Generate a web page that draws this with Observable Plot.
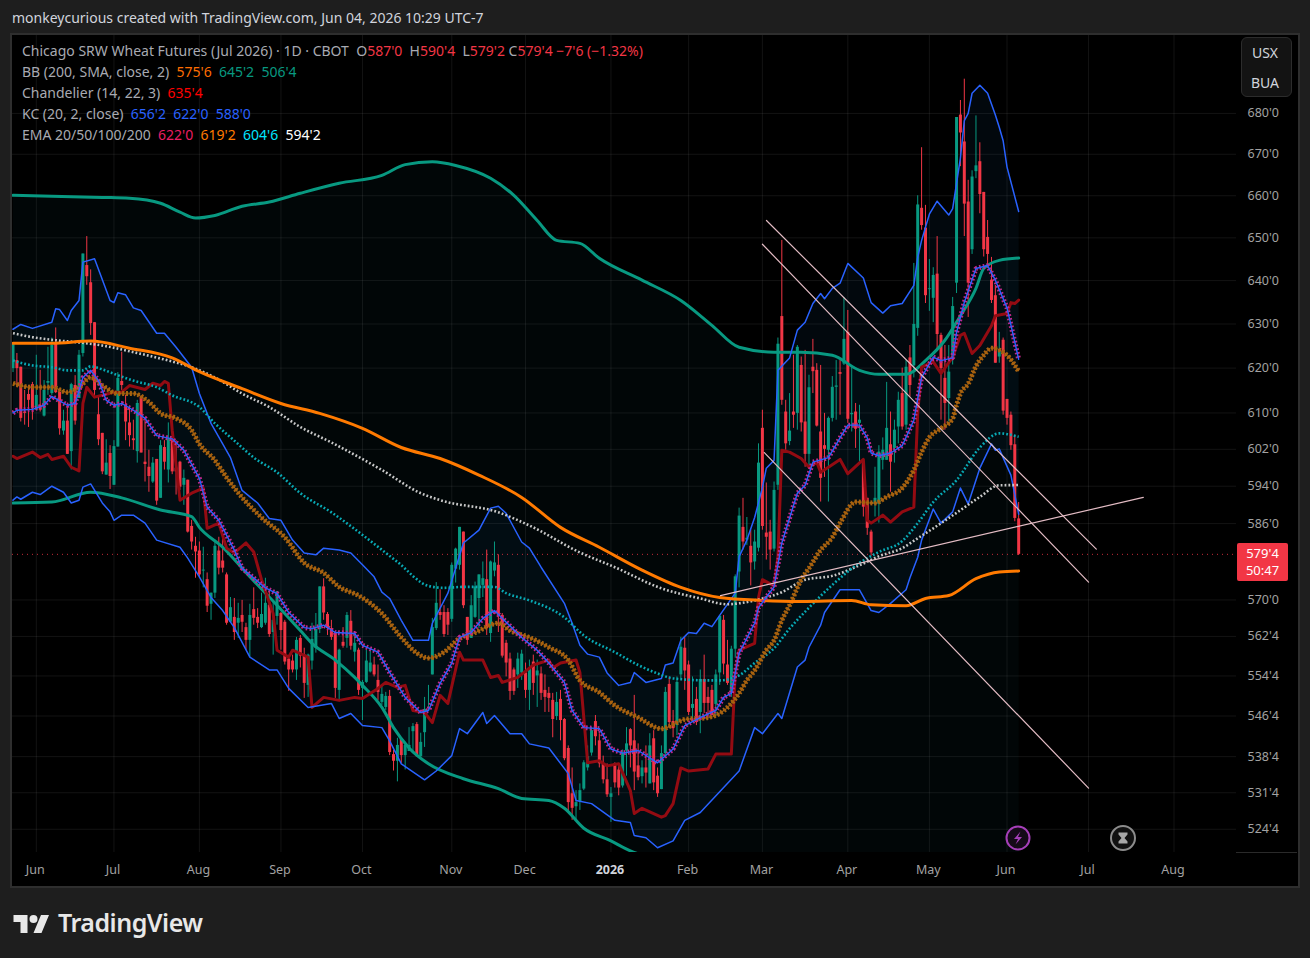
<!DOCTYPE html>
<html><head><meta charset="utf-8">
<script src="https://cdn.jsdelivr.net/npm/d3@7"></script>
<script src="https://cdn.jsdelivr.net/npm/@observablehq/plot@0.6"></script>
<style>
html,body{margin:0;padding:0;background:#1e1e1e;width:1310px;height:958px;overflow:hidden;font-family:"Noto Sans",sans-serif}
#panel{position:absolute;left:10px;top:33px;width:1286px;height:851px;border:2px solid #2e2e2e;background:#000}
#chart{position:absolute;left:12px;top:35px;line-height:0}
#head{position:absolute;left:12px;top:9px;font-size:14px;color:#d1d4dc;line-height:18px}
.lg{position:absolute;left:22px;font-size:14px;color:#a8aab2;white-space:pre;line-height:16px}
#sw{position:absolute;left:1241px;top:37px;width:51px;height:60px;background:#131313;border:1.5px solid #2c2c2c;border-radius:6px;color:#d1d4dc;font-size:14px;text-align:center;line-height:30px;box-sizing:border-box;padding-right:3px}
#tag{position:absolute;left:1237px;top:543px;width:51px;height:38px;background:#f23645;border-radius:2px;color:#fff;font-size:13px;text-align:center;line-height:17px;padding-top:2px;box-sizing:border-box}
#axl{position:absolute;left:1236px;top:852px;width:61px;height:1px;background:#2a2a2a}
#brand{position:absolute;left:58px;top:904px;font-size:25px;font-weight:600;color:#e8e8e8;letter-spacing:-.5px;line-height:36px}
svg.ov{position:absolute;overflow:visible}
</style></head><body>
<div id="panel"></div>
<div id="chart"></div>
<div id="head">monkeycurious created with TradingView.com, Jun 04, 2026 10:29 UTC-7</div>
<div id="legend"></div>
<div id="sw">USX<br>BUA</div>
<div id="tag"></div>
<div id="axl"></div>
<svg class="ov" style="left:1004px;top:824px" width="134" height="28" viewBox="0 0 134 28">
<circle cx="14" cy="14" r="11.5" fill="#150a18" stroke="#a53fb8" stroke-width="2"/>
<path d="M16.5 7.5 L10 15 H14 L11.5 20.5 L18 13 H14 Z" fill="#a53fb8"/>
<circle cx="119" cy="14" r="12" fill="#111" stroke="#8c8c8c" stroke-width="2"/>
<path d="M114.5 8.5 H123.5 V10.5 L120.5 14 L123.5 17.5 V19.5 H114.5 V17.5 L117.5 14 L114.5 10.5 Z" fill="#a8a8a8"/>
</svg>
<svg class="ov" style="left:13px;top:911px" width="37" height="22" viewBox="0 0 36 22">
<path d="M14 22H7V11H0V4h14v18zM28 22h-8l7.5-18h8L28 22z" fill="#e8e8e8"/><circle cx="20" cy="8" r="4" fill="#e8e8e8"/>
</svg>
<div id="brand">TradingView</div>
<script>
// [open, high, low, close] per daily bar, grouped by month
const may25=[[619.9,625.6,619,625.6],[621.7,623.3,615.6,619.9],[620.2,620.2,608,608.8],[610.2,615,607.3,609.9],[614.1,616.1,606.8,612.8],[616.3,616.8,608.4,611]];
const jun25=[[610.6,622.9,610.6,613.9],[611.7,619.5,610.2,610.6],[609.3,617.2,609.1,615],[616.6,624.7,613.9,617],[614.3,626.8,613.9,625.1],[625.4,629.1,614.3,614.5],[614.6,614.6,605.1,606.5],[606,610.6,605.1,608.2],[608.2,612.1,600.9,600.9],[601.5,616.6,597.5,616.3],[616.1,618.3,607.3,608.2],[613.2,624,613.2,622.9],[623.3,646.2,622.5,646.2],[643.5,650.3,638.9,640.9],[639.5,642.5,627.4,630.1],[630.3,630.3,613.2,615],[609.6,613.5,602.8,604.1],[605.5,605.5,596.5,597.1],[596.4,604.1,596.4,599],[601.1,602.8,593.3,596.1]];
const jul25=[[594.2,603.9,594.2,602.6],[602.5,619,602.5,617.7],[617,623.6,615,616.1],[611.7,613.9,603.9,608],[607.8,611.3,602.5,605],[604.3,608.4,601.8,603.9],[601.5,612.8,599,612.1],[613.5,613.6,601.2,601.2],[599.2,608.8,594.9,598.7],[598.1,601.8,592.7,596.1],[594.9,600.2,594.6,599],[599.8,599.8,589.9,590.8],[591.4,603.9,591.4,602.8],[602.4,603.9,597.5,599.2],[597.5,607.8,594.7,604.3],[604.1,604.3,596.5,597.1],[597.9,603.9,592.1,597.1],[599.2,599.4,593.1,593.8],[594.2,597.5,589.9,595.7],[595.3,595.3,584,584.2],[585.4,586.7,580.4,582.1],[581.2,583.1,574.5,580]];
const aug25=[[580.2,582.1,574.5,575.2],[576,581,572.5,576.2],[574.2,575.6,567.4,568.7],[569.1,571.4,565.8,571.4],[571.4,582.5,570.3,581.2],[580.2,583.1,575.2,576.6],[578.1,583.1,575.6,576.6],[575.2,575.6,564.8,565.2],[565.4,570.5,565.2,568.4],[566.4,570.3,561.7,563.3],[565.2,569.3,562.1,566.2],[566.8,569.9,563.3,565.4],[564.3,565.2,559.7,561.7],[561.7,569.1,558.3,566.8],[568,572.5,564.8,566.2],[566.4,568.2,564.1,565.2],[564.3,571.4,564.1,567],[565.2,574.5,564.8,569.3],[568.9,572.1,562.3,562.9],[563.3,569.5,558.7,565.8],[566.6,571.7,564.8,571.7]];
const sep25=[[567.2,567.4,559.7,563.7],[565.4,565.8,556.7,557.3],[557.9,558.1,551.4,555.7],[557.5,558.7,555.1,555.7],[555.7,562.3,553.6,561.7],[562.1,562.7,556.1,558.5],[558.7,560.1,550,553],[552.6,558.9,550.2,558.7],[557.5,565.2,555.7,561.9],[560.1,567.2,559.1,563.9],[563.9,572.7,563.1,572.7],[572.7,574.4,565.8,567.3],[567,567.4,562.7,564.1],[564.1,565.8,561.7,562.3],[563.1,563.3,550,552],[551.6,559.9,549.4,559.7],[561.3,564.3,560.1,560.5],[562.1,567.4,560.1,566.8],[565.6,567.8,559.7,560.5],[559.3,563.3,557.3,561.1],[559.7,560.1,550.6,551.6]];
const oct25=[[552,553.6,545.6,553.2],[553.2,559.7,553,557.5],[555.3,559.7,555.1,557.1],[556.7,558.3,554.3,554.7],[553.6,556.7,549.6,551.2],[549.2,552.6,548.6,550.8],[548.2,551.2,547.6,550.4],[550.4,551.6,538.7,539.3],[538.9,539.7,535.7,537.6],[537.6,542.1,533.6,540.7],[541.9,542.1,537.2,538.7],[538.7,541.3,535.9,540.7],[539.5,544.2,539.5,540.7],[543.4,545,539.3,544.4],[544.8,545.2,538.4,538.5],[538.5,543.1,538.2,541.3],[543.2,550.2,540.3,547.8],[548,552.6,547.6,548.2],[554.7,566.2,554.7,564.3],[564.1,573.6,563.7,569.3],[567.4,572.1,565.8,566.8],[567.4,568.8,562.3,562.9],[567.4,568.2,562.7,564.8]];
const nov25=[[566,577.7,565.4,577.2],[576.4,580.8,573.5,580.6],[577.2,585.2,576.2,585.2],[584.2,584.2,568.2,568.8],[566.4,566.4,560.7,561.7],[562.1,570.9,562.1,568.8],[566.4,573.7,566.2,572.7],[570.3,575.2,564.1,575.2],[573,577.9,570.5,574.4],[574.2,580.4,562.7,564.1],[563.1,578.1,561.3,577.9],[576,582.1,574.8,577.7],[577.2,579.4,563.3,566.8],[566.8,567.2,558.1,558.5],[561.1,561.7,554.3,557.1],[557.9,559.1,549.6,551.4],[555.7,556.1,550.6,551.4],[554.7,559.1,552,557.9],[555.1,559.7,553.6,558.9]];
const dec25=[[555.1,557.1,550,551.6],[551.6,557.7,547.6,556.1],[557.3,558.7,550.6,553],[554.5,557.7,548.2,555.5],[554.9,556.3,549.6,551],[551.6,554.7,547.2,550.2],[551,552.2,547.2,550],[549.6,551,542.2,545.8],[546.4,551.2,545.6,549.2],[549.8,551.6,541.6,545.6],[545.8,546,537.7,538.1],[540.1,540.6,527.7,529.6],[531.3,536.3,526.2,528.5],[528.8,531.9,526.2,529.6],[529.8,533.2,528.1,531.9],[532.2,537.7,531.9,537.3],[536.3,540.6,535.7,538.5],[539.2,544.2,538.6,543.6],[545.4,546.6,540.6,542.4],[541.6,543,536.3,537.1],[537.1,538.6,533.2,534],[534,537.1,530.6,531.1]];
const jan26=[[530.6,532.5,525.8,531.3],[537.1,537.3,532.4,533.4],[535.9,536.7,530.9,532.4],[532.8,539.8,532.4,539.2],[539.6,544.2,534.7,541],[543.8,544,536.3,540.6],[541.6,550.6,531.9,535.5],[536.7,541,533.8,534.4],[534.6,537.7,533.2,536.3],[536.3,540.6,532.4,535.3],[533.2,543,533.2,540.6],[542,543.6,531.9,533.4],[534.7,536.3,530.6,531.3],[532.1,540.6,532.1,539.1],[539.1,552.2,538.1,551.2],[552.8,554.3,544,545.2],[545.4,547.6,542.2,544],[544.6,554.3,542.6,553.2],[554.7,562.3,553.6,560.3],[560.1,562.3,551.6,555.5]];
const feb26=[[556.7,557.5,546.6,547.2],[548,554.3,545.2,548.8],[549.8,552.2,544.6,545.2],[547.2,555.7,543,553.8],[553.8,558.7,547,549],[550.2,552.2,546.6,549],[551.6,552.6,546.6,546.6],[548.8,555.7,546.6,554.7],[555.1,566.8,552.6,566.6],[565.8,566.8,554.7,556.9],[556.7,561.7,552.6,553],[551,560.5,550.2,559.9],[559.9,575.2,558.1,574.8],[575.8,589.3,572.5,587.6],[585.2,591.4,580.4,582.1],[582.5,587.3,581.4,582.9],[581.2,584.6,572.9,577.7],[577.9,584.6,576.2,582.1],[580.8,603.2,580,599]];
const mar26=[[606.6,610.6,584.6,585.4],[584,594.7,578.3,583.1],[584.2,586.7,576.2,580.4],[580.6,594.9,580,593.1],[594.2,626.8,593.1,625.4],[631.7,649.4,611.7,612.8],[610.2,612.8,601.8,603.2],[603.7,614.3,602.8,606],[610.2,622.9,606.6,609.5],[609.9,625.1,606.2,624.7],[620.6,622.5,605.8,607.8],[608,624,598.1,600.9],[600.9,618.4,598.5,615.6],[620.2,626.5,614.3,619.2],[619.5,621,606.9,607.1],[605.8,620.6,590.6,595.7],[602.8,609.9,595.9,602],[601.8,609.1,590.6,608.8],[608.8,618.1,608,615.7],[615.7,621.7,608.4,616],[619,621.7,609.5,618.6],[620.9,636.1,620.6,626.5]];
const apr26=[[628.1,633.1,607.7,608.6],[609.6,620.6,605.8,609.9],[610.2,612.1,602.2,606.4],[607.7,611.7,599,608.4],[599.2,599.2,587.4,589.5],[591.4,591.4,583.5,585],[584.2,584.6,579.1,579.8],[590.1,598.1,587.4,591.4],[590.1,602.8,586.1,601.4],[599.6,604.5,597.5,601.8],[599.6,616.8,599.6,606.6],[603,610.2,592.7,599.2],[602.2,608.4,599,606.2],[606.9,614.6,603.2,612.8],[614.3,620,606.2,606.9],[607.3,621.7,606.2,620.2],[622.3,625.1,613.5,616.1],[620.5,644,617.8,629.9],[629,660,627.2,657.8],[657,671.6,651.8,652.9],[652.3,657.7,634.7,636.5]];
const may26=[[637.9,644.9,632.9,638.1],[635.9,643,630.3,641.2],[641.5,650.3,624,627.6],[627.4,627.9,608.4,619.9],[617.7,625.1,606.2,612.1],[613.2,625.1,608,619.1],[622,636.1,620.7,634],[639.4,679,637,679],[679.6,683.2,667,675.2],[673,688.5,650.3,658],[658.5,663.7,631.5,639.4],[647.2,666,646.1,664.5],[665.8,679.4,664.1,667.2],[668.2,672.8,655.7,660.3],[660.8,660.8,645.5,647.2],[650.1,654.1,643.5,646.1],[640.1,645.4,634.7,635.4],[636.5,638.9,621.1,621.1],[622.5,628.1,621.1,624],[626.3,626.8,609.5,610.4]];
const jun26=[[613,613,607.3,608.8],[609.5,610.2,601.8,602.8],[603,605,586.4,587.1],[587,590.5,579.25,579.5]];

// indicator readings: [bar number, price]
const bbUpper=[[0,660.1],[10,659.9],[23,659.6],[30,659.4],[38,658.2],[43,656.1],[47,654.7],[52,655.3],[59,657.5],[66,658.5],[74,660.6],[84,663],[95,664.9],[101,667.5],[108,668.2],[114,667.3],[123,664.2],[129,660.1],[135,654.1],[140,649.4],[146,648.7],[151,645.2],[162,640.1],[172,635.4],[180,629.7],[187,624.7],[196,623.6],[203,623.6],[211,622.9],[218,619.5],[223,618.6],[230,618.6],[235,621.7],[240,626.3],[244,631.9],[248,638.2],[250,642.8],[254,644.7],[259,645.25]];
const bbBasis=[[0,625.6],[10,625.6],[20,626.1],[30,624.5],[41,622.3],[48,619.2],[59,615.4],[69,612.1],[79,609.9],[90,606.6],[100,602.4],[110,600],[120,596.4],[131,591.6],[141,585.2],[151,581],[162,576.2],[172,572.6],[182,570.5],[193,569.9],[203,569.7],[216,569.9],[221,569],[230,568.8],[235,570.3],[241,570.9],[248,574.4],[254,575.8],[259,576]];
const bbLower=[[0,590.4],[10,590.6],[20,592.7],[28,591.5],[38,588.9],[46,587.5],[48,585.2],[54,581],[61,574.8],[68,568.9],[74,563.7],[77,561.1],[83,557.7],[88,554.2],[90,552.6],[95,548.2],[98,544.2],[102,540.2],[107,537.1],[116,534.2],[125,532.3],[131,530.4],[138,530],[142,528.5],[147,524.7],[154,522.3],[159,520.4],[167,518.5],[172,516.7],[193,511.2],[216,508.4],[241,506.6],[259,506.5]];
const kcUpper=[[0,628.8],[2,629.9],[5,629],[10,630.4],[11,633.5],[12,633.3],[14,630.8],[15,633.1],[17,635.4],[18,644.3],[21,645.1],[25,635.4],[26,634.9],[27,637.2],[29,636.7],[31,633.7],[33,633.1],[37,627.9],[39,627.9],[42,624.7],[46,620.2],[48,614.3],[51,607.7],[54,603.2],[56,600.2],[59,593.1],[63,590.4],[66,587.1],[69,586.7],[72,582.5],[75,579.8],[78,579.4],[80,580.8],[84,580.4],[87,579.8],[90,577.3],[93,574.8],[95,571.6],[97,570.3],[100,565.8],[103,561.7],[107,561.7],[108,565.2],[112,571.4],[116,581.9],[120,584.6],[123,589.3],[125,589.7],[127,588.2],[131,582.1],[133,580.8],[136,576.8],[142,569.3],[144,565.2],[146,560.7],[148,558.9],[151,558.3],[153,555.1],[156,552.6],[159,553.2],[160,555.2],[163,553.2],[167,554],[168,556.7],[170,557.1],[172,561.7],[174,563.3],[176,563.1],[178,565.2],[180,564.5],[182,566.8],[186,571.4],[187,579],[189,582.5],[191,587.3],[193,593.7],[194,597.9],[196,599.6],[197,619.5],[200,622.3],[202,628.6],[204,630.4],[206,634.7],[208,637],[209,635.8],[211,638.2],[213,639.4],[215,644],[219,640.6],[221,634.9],[224,632.5],[226,634.2],[229,634.7],[232,638.9],[233,645.4],[234,649.4],[236,655.6],[238,658.7],[241,655.4],[242,656.9],[244,669.1],[245,678.2],[246,680],[247,685],[249,687],[251,685],[253,679.6],[254,676.6],[255,673.3],[256,666.9],[259,656.25]];
const kcLower=[[0,591],[1,591.7],[2,591.2],[5,592.7],[7,592.2],[10,594],[13,592.7],[15,590.4],[17,591],[18,593.8],[20,594.5],[23,590.4],[25,588.5],[26,586.7],[28,587.8],[31,587.8],[34,586.1],[37,582.5],[43,581],[45,578.7],[48,574.8],[51,570.5],[54,567.8],[57,564.3],[61,558.3],[66,555.7],[68,555.7],[71,552],[76,548.2],[82,549],[84,546],[87,547],[90,544.6],[95,544.2],[97,541.6],[100,537.1],[106,534],[109,535.7],[113,538.7],[115,544],[117,543],[121,547.2],[122,545],[124,546.6],[128,543],[131,543],[133,541],[138,540.2],[143,535.2],[145,530],[149,529.4],[155,526.2],[159,525.8],[160,523.3],[163,522.9],[166,521],[170,522.3],[173,526.2],[177,527.7],[187,535.7],[191,544.2],[193,543],[197,547],[198,546],[202,556.3],[204,557.7],[205,560.3],[208,564.8],[209,567.4],[213,572.1],[218,572.1],[221,567.8],[223,567.4],[226,569.3],[230,572.1],[231,574.6],[233,578.9],[234,582.5],[237,589.1],[239,586.1],[242,588.5],[244,593.6],[246,590.2],[249,597.9],[252,603.2],[253,601.8],[254,602.1],[257,596.4],[259,588]];
const ema20=[[0,610],[1,610.6],[5,610.8],[8,611.7],[10,613.7],[14,611.7],[16,612.1],[18,617.9],[20,619.5],[22,617.2],[24,612.8],[26,611.7],[28,612.1],[31,610.6],[34,608.8],[37,605],[41,604.3],[44,601.8],[48,595.7],[50,589.5],[53,586.7],[57,580.4],[59,576.6],[65,572.5],[68,571.3],[71,567.4],[75,564.3],[77,564.1],[80,564.8],[83,563.3],[88,563.1],[90,560.7],[94,559.3],[97,555.2],[101,550.2],[105,547.2],[107,547.6],[110,553],[113,557.1],[115,562.3],[118,563.3],[121,566.2],[124,567.8],[126,566.2],[131,562.3],[135,559.7],[138,557.1],[142,553.2],[144,547.6],[147,544.2],[151,544],[154,540],[157,539.2],[161,539.7],[166,537.3],[170,540],[173,544.6],[177,546.2],[181,547.6],[183,550.2],[185,551],[187,559.1],[191,565.2],[192,568.4],[196,572.7],[198,581.9],[202,592.5],[204,594.2],[206,599.2],[210,600.2],[213,604.5],[215,607.3],[218,607.3],[220,604.5],[221,601.2],[223,600.6],[226,601.2],[229,602.8],[232,608.4],[234,617.9],[237,622.5],[239,621.7],[242,622.3],[243,628.1],[245,635],[248,642.8],[251,643.5],[253,640.1],[256,633.7],[259,622]];
const ema50=[[0,616.6],[5,615.7],[10,615.7],[14,614.6],[17,615.7],[20,617.9],[23,616.1],[27,614.3],[31,614.3],[35,612.4],[38,609.9],[42,608.8],[46,606.2],[48,603.2],[52,599.6],[55,595.9],[59,591.6],[64,587.3],[70,583.1],[75,577.7],[80,575.6],[84,572.7],[89,570.9],[95,567.2],[100,562.3],[104,559.1],[107,558.1],[111,559.3],[115,562.1],[119,563.3],[125,565.2],[128,563.7],[133,562.3],[138,560.3],[143,557.7],[146,553.6],[151,551.2],[155,548.6],[161,546.2],[167,544],[173,545.8],[179,546.2],[184,548.2],[187,551],[189,553.6],[191,555.6],[194,559.7],[196,561.7],[198,565.8],[200,568.9],[203,574.2],[205,576.6],[208,580.4],[211,583.1],[213,586.1],[217,590.6],[222,590.4],[225,591.7],[229,593.6],[232,597.5],[234,601.4],[236,604.6],[239,606.6],[242,608.8],[243,611.7],[244,614.3],[246,616.5],[248,620.4],[250,622.9],[252,624.5],[256,622.9],[259,619.25]];
const ema100=[[0,621.7],[5,620.6],[10,620.2],[14,619.5],[18,619.5],[20,620.4],[23,619.7],[27,618.4],[31,617.2],[37,615.7],[41,613.9],[48,611.3],[52,607.7],[57,603.9],[62,600.2],[68,597],[74,592.5],[82,588.4],[90,583.6],[99,577.9],[107,572.9],[111,572.5],[116,572.7],[124,572.7],[127,571.4],[133,569.9],[142,566.4],[147,562.7],[155,559.3],[161,556.7],[166,555],[170,554],[179,553.6],[182,553.6],[187,554.6],[191,557.1],[196,560.1],[200,564.1],[205,568.4],[211,573.1],[218,577.7],[223,580],[229,582.3],[233,586.1],[237,590.6],[243,595.3],[249,602.4],[254,605.5],[259,604.75]];
const ema200=[[0,627.9],[5,627],[11,626.3],[17,625.8],[23,625.1],[31,623.6],[40,621.7],[46,620.2],[52,617.9],[59,614.3],[66,611.3],[74,606.9],[82,603.5],[95,597.5],[105,592.5],[110,591],[125,588.4],[133,585.6],[146,579.9],[155,576.8],[167,572.4],[177,570.3],[184,569.1],[187,569.3],[193,570.3],[198,571.6],[204,574.2],[211,575],[218,577.2],[223,579.1],[229,580.8],[233,582.9],[237,585],[243,588.3],[249,591.7],[254,594.2],[259,594.25]];
const chandelier=[[0,600.5],[1,600],[5,601.4],[7,600.2],[9,600.9],[10,599.8],[13,600.5],[15,598.1],[17,597.3],[18,612.1],[19,615.7],[21,613.5],[26,614.6],[28,614.6],[30,616.1],[34,615.2],[36,616.6],[38,616.1],[39,617],[40,616.6],[41,606.2],[43,591],[46,592.5],[49,593.6],[50,585],[53,586.1],[55,580.8],[57,579.8],[60,581.9],[62,580],[64,574.2],[67,567.2],[68,559.7],[71,558.3],[72,559.7],[76,558.3],[77,548.2],[80,550.2],[84,549.6],[88,550.2],[90,550],[94,552],[96,553.2],[99,552.2],[101,552.6],[103,547.6],[106,547.2],[108,545.2],[110,550.6],[112,549],[115,559.3],[116,557.7],[121,557.7],[123,554.2],[125,554.6],[126,553.2],[130,554.2],[134,556.7],[138,557.7],[139,556.1],[141,557.1],[145,557.7],[146,555.2],[148,537.3],[151,537.7],[153,536.7],[156,537.1],[159,531.9],[160,527.5],[162,528.5],[167,526.8],[168,527.1],[170,529.4],[172,536.3],[174,535.7],[179,536.1],[181,539],[185,539],[186,555],[187,559.7],[191,561.1],[192,570.5],[193,574.2],[196,572.9],[197,578.9],[198,601.8],[200,601.4],[203,600],[205,598.1],[207,599.2],[208,597],[210,598.1],[213,599.8],[215,596.7],[219,599.8],[220,586.7],[221,586.1],[224,587.8],[226,586.3],[229,588.5],[232,589.5],[233,609.9],[234,620.2],[237,621.4],[239,618.8],[242,622.5],[244,627.4],[245,627.9],[247,623.3],[249,625.1],[252,629.6],[253,631.9],[256,632.4],[257,634.9],[258,634.7],[259,635.5]];
// drawn trend lines: start and end as [bar number, price]
const trend1=[[194.05,654.1],[279,580.6]];
const trend2=[[193,648.5],[277,573.7]];
const trend3=[[193.5,601.3],[277,532.4]];
const trend4=[[182.2,570.9],[291.1,591.6]];

const lastPrice=579.5, countdown="50:47";
const priceTicks=[680,670,660,650,640,630,620,610,602,594,586,570,562.5,554.5,546.5,538.5,531.5,524.5];
const monthBars=[6,26,48,69,90,113,132,174,193,215,236,256,277,299];
const monthNames=["Jun","Jul","Aug","Sep","Oct","Nov","Dec","Feb","Mar","Apr","May","Jun","Jul","Aug"];
const yearBar=[154], yearName="2026";

const legendRows=[
 [["Chicago SRW Wheat Futures (Jul 2026) · 1D · CBOT  ","#a8aab2"],["O","#a8aab2"],["587'0  ","#f23645"],["H","#a8aab2"],["590'4  ","#f23645"],["L","#a8aab2"],["579'2 ","#f23645"],["C","#a8aab2"],["579'4 −7'6 (−1.32%)","#f23645"]],
 [["BB (200, SMA, close, 2)  ","#a8aab2"],["575'6  ","#ff6d00"],["645'2  506'4","#089981"]],
 [["Chandelier (14, 22, 3)  ","#a8aab2"],["635'4","#ff0000"]],
 [["KC (20, 2, close)  ","#a8aab2"],["656'2  622'0  588'0","#2962ff"]],
 [["EMA 20/50/100/200  ","#a8aab2"],["622'0  ","#e91e63"],["619'2  ","#ff7a00"],["604'6  ","#00e5ff"],["594'2","#ffffff"]]
];

const up="#089981", down="#f23645";
const pts=a=>a.map(([i,p])=>({i,p}));
const bars=[...may25,...jun25,...jul25,...aug25,...sep25,...oct25,...nov25,...dec25,...jan26,...feb26,...mar26,...apr26,...may26,...jun26]
  .map(([o,h,l,c],i)=>({i,o,h,l,c,col:c>=o?up:down}));
const fmt=v=>{const w=Math.floor(v);return w+"'"+Math.round((v-w)*8)};
const monthLabel=new Map(monthBars.map((b,k)=>[b,monthNames[k]]));
const line=(a,o)=>Plot.line(pts(a),{x:"i",y:"p",clip:true,...o});
const smooth={curve:"monotone-x"};
const butt={strokeLinecap:"butt",strokeLinejoin:"miter"};

const plot=Plot.plot({
  width:1286,height:850,marginLeft:0,marginTop:0,marginRight:62,marginBottom:33,
  style:{background:"transparent",fontFamily:'"Noto Sans",sans-serif',fontSize:"12.5px"},
  x:{type:"linear",domain:[-0.13,315.1],range:[0,1224]},
  y:{type:"log",domain:[520.1,699.5],range:[817,0]},
  marks:[
    Plot.gridX(monthBars.concat(yearBar),{stroke:"#fff",strokeOpacity:.075}),
    Plot.gridY(priceTicks,{stroke:"#fff",strokeOpacity:.075}),
    Plot.line(pts([...bbUpper,...[...bbLower].reverse()]),{x:"i",y:"p",fill:"#1e8fb0",fillOpacity:.04,stroke:"none",clip:true}),
    Plot.line(pts([...kcUpper,...[...kcLower].reverse()]),{x:"i",y:"p",fill:"#2196f3",fillOpacity:.055,stroke:"none",clip:true}),
    Plot.ruleY([lastPrice],{stroke:down,strokeWidth:1,strokeDasharray:"1 4",strokeOpacity:.8}),
    Plot.ruleX(bars,{x:"i",y1:"l",y2:"h",stroke:"col",strokeWidth:1,clip:true}),
    Plot.ruleX(bars,{x:"i",y1:"o",y2:"c",stroke:"col",strokeWidth:3,clip:true}),
    line(bbUpper,{stroke:"#089981",strokeWidth:3,...smooth}),
    line(bbLower,{stroke:"#089981",strokeWidth:3,...smooth}),
    line(chandelier,{stroke:"#930b12",strokeWidth:3}),
    line(kcUpper,{stroke:"#2962ff",strokeWidth:1.5}),
    line(kcLower,{stroke:"#2962ff",strokeWidth:1.5}),
    line(ema200,{stroke:"#c8c8c8",strokeWidth:2.6,strokeDasharray:"1.8 2.08",...smooth,...butt}),
    line(ema100,{stroke:"#08a9b4",strokeWidth:2.6,strokeDasharray:"1.8 2.08",...smooth,...butt}),
    line(ema50,{stroke:"#a8620f",strokeWidth:5,strokeDasharray:"2 1.88",...smooth,...butt}),
    line(ema50,{stroke:"#a8620f",strokeWidth:2,strokeDasharray:"3.4 .48",strokeDashoffset:.7,...smooth,...butt}),
    line(bbBasis,{stroke:"#ff7a00",strokeWidth:3,...smooth}),
    line(ema20,{stroke:"#c2278a",strokeWidth:5,strokeDasharray:"1.7 2.18",...butt}),
    line(ema20,{stroke:"#2962ff",strokeWidth:1.4}),
    ...[trend1,trend2,trend3,trend4].map(t=>Plot.line(pts(t),{x:"i",y:"p",stroke:"#e3bcc4",strokeWidth:1.2})),
    Plot.axisY(priceTicks,{anchor:"right",tickSize:0,tickPadding:11,tickFormat:fmt,label:null,color:"#a2a2a2"}),
    Plot.axisX(monthBars,{anchor:"bottom",tickSize:0,tickPadding:13,dx:-1,tickFormat:b=>monthLabel.get(b),label:null,color:"#a2a2a2"}),
    Plot.axisX(yearBar,{anchor:"bottom",tickSize:0,tickPadding:13,dx:-1,tickFormat:()=>yearName,label:null,color:"#d1d4dc",fontWeight:"bold"})
  ]
});
document.getElementById("chart").append(plot);

const lg=document.getElementById("legend");
legendRows.forEach((row,k)=>{
  const d=document.createElement("div");d.className="lg";d.style.top=(43+k*21)+"px";
  row.forEach(([t,c])=>{const s=document.createElement("span");s.textContent=t;s.style.color=c;d.append(s)});
  lg.append(d);
});
document.getElementById("tag").innerHTML=fmt(lastPrice)+"<br>"+countdown;
</script>
</body></html>
